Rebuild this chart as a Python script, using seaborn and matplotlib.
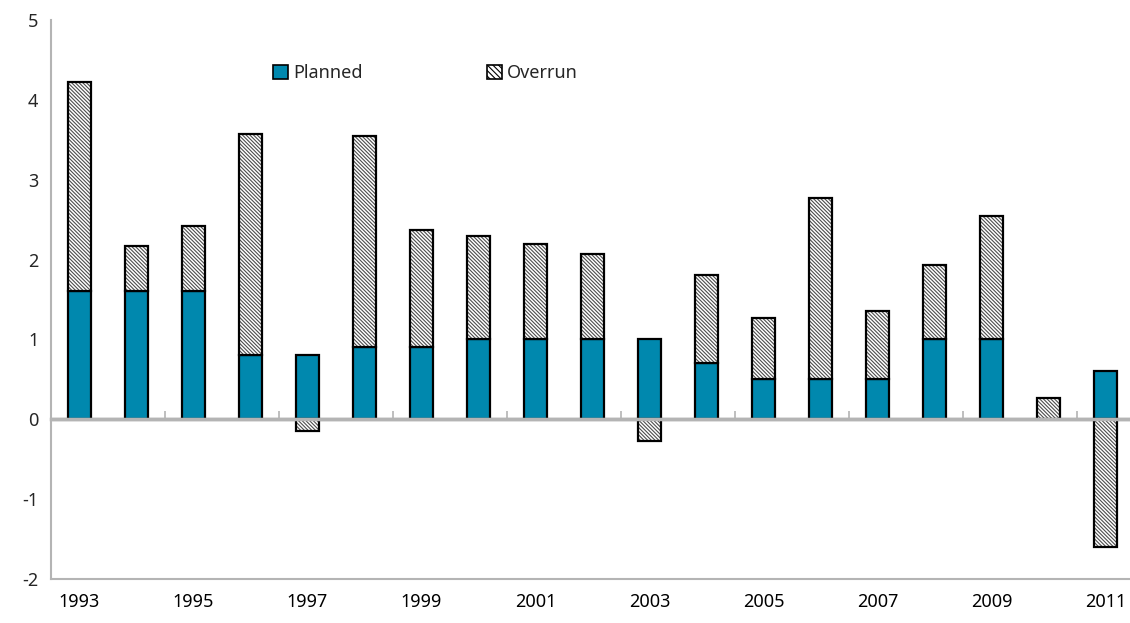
import numpy as np
import pandas as pd
import matplotlib
matplotlib.use('Agg')
import matplotlib.pyplot as plt
import seaborn as sns
from matplotlib.patches import Patch

# ---- data ----
years = [1993, 1994, 1995, 1996, 1997, 1998, 1999, 2000, 2001, 2002,
         2003, 2004, 2005, 2006, 2007, 2008, 2009, 2010, 2011]
planned = [1.6, 1.6, 1.6, 0.8, 0.8, 0.9, 0.9, 1.0, 1.0, 1.0,
           1.0, 0.7, 0.5, 0.5, 0.5, 1.0, 1.0, 0.0, 0.6]
overrun = [2.62, 0.57, 0.82, 2.77, -0.15, 2.65, 1.47, 1.30, 1.20, 1.07,
           -0.27, 1.10, 0.77, 2.27, 0.85, 0.93, 1.55, 0.27, -1.60]
ytick_vals = [-2, -1, 0, 1, 2, 3, 4, 5]

df = pd.DataFrame({'Year': [str(y) for y in years],
                   'Planned': planned, 'Overrun': overrun})
# overruns sit on top of planned when positive, hang from zero when negative
df['Base'] = np.where(df['Overrun'] > 0, df['Planned'], 0)

sns.set_style('white')
plt.rcParams['font.family'] = ['Noto Sans', 'DejaVu Sans']
plt.rcParams['axes.unicode_minus'] = False
plt.rcParams['hatch.linewidth'] = 0.8

teal = '#0088AE'
grey = '#B4B4B4'
hatch_col = '#4D4D4D'
bar_w = 0.4
hatch = '\\' * 9
xpos = np.arange(len(df))

fig = plt.figure(figsize=(11.3, 6.23), dpi=100)
ax = fig.add_axes([0.045, 0.0706, 0.9585, 0.8975])

sns.barplot(data=df, x='Year', y='Planned', color=teal, width=bar_w,
            edgecolor='black', linewidth=1.6, saturation=1, ax=ax, zorder=2)
# hatch fill in dark grey, then black outline on top
ax.bar(xpos, df['Overrun'], bottom=df['Base'], width=bar_w,
       color='white', edgecolor=hatch_col, linewidth=0, hatch=hatch, zorder=2)
ax.bar(xpos, df['Overrun'], bottom=df['Base'], width=bar_w,
       fill=False, edgecolor='black', linewidth=1.6, zorder=2)

ax.set_xlim(-0.5, len(df) - 0.5)
ax.set_ylim(-2, 5)
ax.set_yticks(ytick_vals)
ax.set_xticks(np.arange(0, len(df), 2))
ax.set_xticklabels(df['Year'][::2])
ax.set_xlabel('')
ax.set_ylabel('')

for s in ['top', 'right']:
    ax.spines[s].set_visible(False)
for s in ['left', 'bottom']:
    ax.spines[s].set_color(grey)
    ax.spines[s].set_linewidth(1.5)
ax.tick_params(axis='x', length=0, labelsize=13, pad=10, colors='black')
ax.tick_params(axis='y', direction='in', length=6, width=1.2, color=grey,
               labelsize=13, pad=9)

# zero line with tick marks between every two categories
zero_ax = ax.secondary_xaxis(2 / 7)
zero_ax.spines['bottom'].set_color(grey)
zero_ax.spines['bottom'].set_linewidth(2.5)
zero_ax.set_xticks(np.arange(1.5, len(df) - 1, 2))
zero_ax.set_xticklabels([])
zero_ax.tick_params(axis='x', direction='in', length=6, width=1.2, color=grey)
ax.axhline(0, color=grey, lw=2.5, zorder=3)

handles = [Patch(facecolor=teal, edgecolor='black', linewidth=1.2),
           Patch(facecolor='white', edgecolor='black', linewidth=1.2, hatch='\\' * 6)]
ax.legend(handles, ['Planned', 'Overrun'], ncol=2, frameon=False,
          loc='upper left', bbox_to_anchor=(0.242, 0.897),
          bbox_transform=fig.transFigure, borderpad=0, borderaxespad=0,
          handlelength=0.8, handleheight=0.8, handletextpad=0.3,
          columnspacing=6.9, fontsize=13)

plt.savefig('out.png', dpi=100)
